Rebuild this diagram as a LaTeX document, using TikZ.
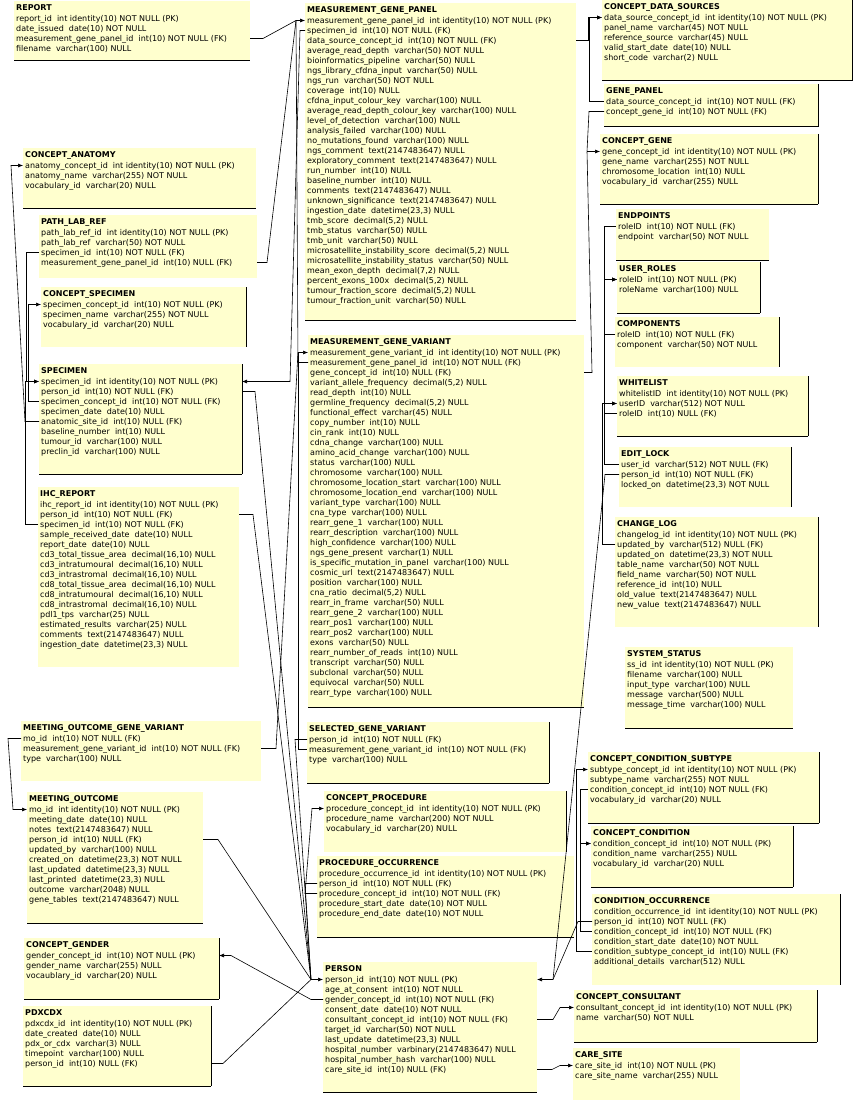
\documentclass[tikz,border=0pt]{standalone}
\usepackage{fontspec}
\setmainfont{DejaVu Sans}
\usetikzlibrary{arrows.meta}
\definecolor{tblfill}{RGB}{255,255,206}
\tikzset{
  tbox/.style={fill=tblfill, draw=none, inner sep=0pt, outer sep=0pt},
  ttext/.style={anchor=north west, inner sep=0pt, align=left, font=\fontsize{8}{10}\selectfont},
  edgeln/.style={draw=black, line width=1pt},
  ln/.style={draw=black, line width=0.6pt},
  fk/.style={ln, -{Latex[length=5pt,width=4pt]}}
}
\newcommand\tbl[8]{%
  \node[tbox, anchor=north west, minimum width={(#4)-(#2)}, minimum height={(#5)-(#3)}] (#1) at (#2,#3) {};
  \node[ttext] (#1-t) at ({#2+2},{#3+1.9}) {\rule{0pt}{7pt}\textbf{#7}\\[1.5pt]#8};
  \foreach \i in {1,...,#6} {%
    \coordinate (#1-L\i) at (#2,{#3+17.5+10*(\i-1)});
    \coordinate (#1-R\i) at (#4,{#3+17.5+10*(\i-1)});
  }%
}
\newcommand\eB[1]{\draw[edgeln] (#1.south west) -- (#1.south east);}
\newcommand\eR[1]{\draw[edgeln] (#1.north east) -- (#1.south east);}
\catcode`\_=12
\begin{document}
\begin{tikzpicture}[x=1pt,y=-1pt]
\fill[white] (0,0) rectangle (865,1105);
\useasboundingbox (0,0) rectangle (865,1105);

% ---------------- left column
\tbl{report}{14}{1}{250}{61}{4}{REPORT}{report_id~~int identity(10) NOT NULL (PK)\\date_issued~~date(10) NOT NULL\\measurement_gene_panel_id~~int(10) NOT NULL (FK)\\filename~~varchar(100) NULL}
\eB{report}
\tbl{canat}{23}{148}{256}{208}{3}{CONCEPT_ANATOMY}{anatomy_concept_id~~int identity(10) NOT NULL (PK)\\anatomy_name~~varchar(255) NOT NULL\\vocabulary_id~~varchar(20) NULL}
\eB{canat}
\tbl{plr}{39}{215}{257}{278}{4}{PATH_LAB_REF}{path_lab_ref_id~~int identity(10) NOT NULL (PK)\\path_lab_ref~~varchar(50) NOT NULL\\specimen_id~~int(10) NOT NULL (FK)\\measurement_gene_panel_id~~int(10) NULL (FK)}
\tbl{cspec}{41}{287}{246}{347}{3}{CONCEPT_SPECIMEN}{specimen_concept_id~~int(10) NOT NULL (PK)\\specimen_name~~varchar(255) NOT NULL\\vocabulary_id~~varchar(20) NULL}
\eR{cspec}
\tbl{spec}{39}{364}{242}{474}{8}{SPECIMEN}{specimen_id~~int identity(10) NOT NULL (PK)\\person_id~~int(10) NOT NULL (FK)\\specimen_concept_id~~int(10) NOT NULL (FK)\\specimen_date~~date(10) NULL\\anatomic_site_id~~int(10) NULL (FK)\\baseline_number~~int(10) NULL\\tumour_id~~varchar(100) NULL\\preclin_id~~varchar(100) NULL}
\eR{spec}\eB{spec}
\tbl{ihc}{38}{487}{239}{667}{15}{IHC_REPORT}{ihc_report_id~~int identity(10) NOT NULL (PK)\\person_id~~int(10) NOT NULL (FK)\\specimen_id~~int(10) NOT NULL (FK)\\sample_received_date~~date(10) NULL\\report_date~~date(10) NULL\\cd3_total_tissue_area~~decimal(16,10) NULL\\cd3_intratumoural~~decimal(16,10) NULL\\cd3_intrastromal~~decimal(16,10) NULL\\cd8_total_tissue_area~~decimal(16,10) NULL\\cd8_intratumoural~~decimal(16,10) NULL\\cd8_intrastromal~~decimal(16,10) NULL\\pdl1_tps~~varchar(25) NULL\\estimated_results~~varchar(25) NULL\\comments~~text(2147483647) NULL\\ingestion_date~~datetime(23,3) NULL}
\tbl{mogv}{21}{721}{261}{781}{3}{MEETING_OUTCOME_GENE_VARIANT}{mo_id~~int(10) NOT NULL (FK)\\measurement_gene_variant_id~~int(10) NOT NULL (FK)\\type~~varchar(100) NULL}
\tbl{mo}{27}{792}{203}{923}{10}{MEETING_OUTCOME}{mo_id~~int identity(10) NOT NULL (PK)\\meeting_date~~date(10) NULL\\notes~~text(2147483647) NULL\\person_id~~int(10) NULL (FK)\\updated_by~~varchar(100) NULL\\created_on~~datetime(23,3) NOT NULL\\last_updated~~datetime(23,3) NULL\\last_printed~~datetime(23,3) NULL\\outcome~~varchar(2048) NULL\\gene_tables~~text(2147483647) NULL}
\eB{mo}
\tbl{cgender}{24}{938}{219}{999}{3}{CONCEPT_GENDER}{gender_concept_id~~int(10) NOT NULL (PK)\\gender_name~~varchar(255) NULL\\vocaublary_id~~varchar(20) NULL}
\eR{cgender}\eB{cgender}
\tbl{pdx}{23}{1006}{211}{1086}{5}{PDXCDX}{pdxcdx_id~~int identity(10) NOT NULL (PK)\\date_created~~date(10) NULL\\pdx_or_cdx~~varchar(3) NULL\\timepoint~~varchar(100) NULL\\person_id~~int(10) NULL (FK)}
\eR{pdx}\eB{pdx}

% ---------------- middle column
\tbl{mgp}{305}{3}{576}{320}{29}{MEASUREMENT_GENE_PANEL}{measurement_gene_panel_id~~int identity(10) NOT NULL (PK)\\specimen_id~~int(10) NOT NULL (FK)\\data_source_concept_id~~int(10) NOT NULL (FK)\\average_read_depth~~varchar(50) NOT NULL\\bioinformatics_pipeline~~varchar(50) NULL\\ngs_library_cfdna_input~~varchar(50) NULL\\ngs_run~~varchar(50) NOT NULL\\coverage~~int(10) NULL\\cfdna_input_colour_key~~varchar(100) NULL\\average_read_depth_colour_key~~varchar(100) NULL\\level_of_detection~~varchar(100) NULL\\analysis_failed~~varchar(100) NULL\\no_mutations_found~~varchar(100) NULL\\ngs_comment~~text(2147483647) NULL\\exploratory_comment~~text(2147483647) NULL\\run_number~~int(10) NULL\\baseline_number~~int(10) NULL\\comments~~text(2147483647) NULL\\unknown_significance~~text(2147483647) NULL\\ingestion_date~~datetime(23,3) NULL\\tmb_score~~decimal(5,2) NULL\\tmb_status~~varchar(50) NULL\\tmb_unit~~varchar(50) NULL\\microsatellite_instability_score~~decimal(5,2) NULL\\microsatellite_instability_status~~varchar(50) NULL\\mean_exon_depth~~decimal(7,2) NULL\\percent_exons_100x~~decimal(5,2) NULL\\tumour_fraction_score~~decimal(5,2) NULL\\tumour_fraction_unit~~varchar(50) NULL}
\eB{mgp}
\tbl{mgv}{308}{335}{584}{707}{35}{MEASUREMENT_GENE_VARIANT}{measurement_gene_variant_id~~int identity(10) NOT NULL (PK)\\measurement_gene_panel_id~~int(10) NOT NULL (FK)\\gene_concept_id~~int(10) NULL (FK)\\variant_allele_frequency~~decimal(5,2) NULL\\read_depth~~int(10) NULL\\germline_frequency~~decimal(5,2) NULL\\functional_effect~~varchar(45) NULL\\copy_number~~int(10) NULL\\cin_rank~~int(10) NULL\\cdna_change~~varchar(100) NULL\\amino_acid_change~~varchar(100) NULL\\status~~varchar(100) NULL\\chromosome~~varchar(100) NULL\\chromosome_location_start~~varchar(100) NULL\\chromosome_location_end~~varchar(100) NULL\\variant_type~~varchar(100) NULL\\cna_type~~varchar(100) NULL\\rearr_gene_1~~varchar(100) NULL\\rearr_description~~varchar(100) NULL\\high_confidence~~varchar(100) NULL\\ngs_gene_present~~varchar(1) NULL\\is_specific_mutation_in_panel~~varchar(100) NULL\\cosmic_url~~text(2147483647) NULL\\position~~varchar(100) NULL\\cna_ratio~~decimal(5,2) NULL\\rearr_in_frame~~varchar(50) NULL\\rearr_gene_2~~varchar(100) NULL\\rearr_pos1~~varchar(100) NULL\\rearr_pos2~~varchar(100) NULL\\exons~~varchar(50) NULL\\rearr_number_of_reads~~int(10) NULL\\transcript~~varchar(50) NULL\\subclonal~~varchar(50) NULL\\equivocal~~varchar(50) NULL\\rearr_type~~varchar(100) NULL}
\eB{mgv}
\tbl{sgv}{307}{722}{549}{783}{3}{SELECTED_GENE_VARIANT}{person_id~~int(10) NOT NULL (FK)\\measurement_gene_variant_id~~int(10) NOT NULL (FK)\\type~~varchar(100) NULL}
\eR{sgv}\eB{sgv}
\tbl{cproc}{324}{791}{566}{852}{3}{CONCEPT_PROCEDURE}{procedure_concept_id~~int identity(10) NOT NULL (PK)\\procedure_name~~varchar(200) NOT NULL\\vocabulary_id~~varchar(20) NULL}
\eR{cproc}
\tbl{po}{317}{856}{574}{937}{5}{PROCEDURE_OCCURRENCE}{procedure_occurrence_id~~int identity(10) NOT NULL (PK)\\person_id~~int(10) NOT NULL (FK)\\procedure_concept_id~~int(10) NOT NULL (FK)\\procedure_start_date~~date(10) NOT NULL\\procedure_end_date~~date(10) NOT NULL}
\eB{po}
\tbl{person}{323}{962}{537}{1092}{10}{PERSON}{person_id~~int(10) NOT NULL (PK)\\age_at_consent~~int(10) NOT NULL\\gender_concept_id~~int(10) NOT NULL (FK)\\consent_date~~date(10) NOT NULL\\consultant_concept_id~~int(10) NOT NULL (FK)\\target_id~~varchar(50) NOT NULL\\last_update~~datetime(23,3) NULL\\hospital_number~~varbinary(2147483647) NULL\\hospital_number_hash~~varchar(100) NULL\\care_site_id~~int(10) NULL (FK)}
\eB{person}

% ---------------- right column
\tbl{cds}{602}{0}{852}{81}{5}{CONCEPT_DATA_SOURCES}{data_source_concept_id~~int identity(10) NOT NULL (PK)\\panel_name~~varchar(45) NOT NULL\\reference_source~~varchar(45) NULL\\valid_start_date~~date(10) NULL\\short_code~~varchar(2) NULL}
\eR{cds}\eB{cds}
\tbl{gp}{604}{84}{818}{127}{2}{GENE_PANEL}{data_source_concept_id~~int(10) NOT NULL (FK)\\concept_gene_id~~int(10) NOT NULL (FK)}
\eR{gp}\eB{gp}
\tbl{cgene}{600}{134}{818}{204}{4}{CONCEPT_GENE}{gene_concept_id~~int identity(10) NOT NULL (PK)\\gene_name~~varchar(255) NOT NULL\\chromosome_location~~int(10) NULL\\vocabulary_id~~varchar(255) NULL}
\eR{cgene}\eB{cgene}
\tbl{endp}{616}{209}{769}{260}{2}{ENDPOINTS}{roleID~~int(10) NOT NULL (FK)\\endpoint~~varchar(50) NOT NULL}
\eB{endp}
\tbl{uroles}{617}{262}{760}{313}{2}{USER_ROLES}{roleID~~int(10) NOT NULL (PK)\\roleName~~varchar(100) NULL}
\eR{uroles}\eB{uroles}
\tbl{comp}{615}{317}{779}{367}{2}{COMPONENTS}{roleID~~int(10) NOT NULL (FK)\\component~~varchar(50) NOT NULL}
\eR{comp}
\tbl{wl}{617}{376}{808}{436}{3}{WHITELIST}{whitelistID~~int identity(10) NOT NULL (PK)\\userID~~varchar(512) NOT NULL\\roleID~~int(10) NULL (FK)}
\eR{wl}\eB{wl}
\tbl{elock}{619}{447}{791}{507}{3}{EDIT_LOCK}{user_id~~varchar(512) NOT NULL (FK)\\person_id~~int(10) NOT NULL (FK)\\locked_on~~datetime(23,3) NOT NULL}
\eR{elock}
\tbl{clog}{615}{517}{818}{627}{8}{CHANGE_LOG}{changelog_id~~int identity(10) NOT NULL (PK)\\updated_by~~varchar(512) NULL (FK)\\updated_on~~datetime(23,3) NOT NULL\\table_name~~varchar(50) NOT NULL\\field_name~~varchar(50) NOT NULL\\reference_id~~int(10) NULL\\old_value~~text(2147483647) NULL\\new_value~~text(2147483647) NULL}
\eR{clog}
\tbl{sys}{625}{647}{793}{728}{5}{SYSTEM_STATUS}{ss_id~~int identity(10) NOT NULL (PK)\\filename~~varchar(100) NULL\\input_type~~varchar(100) NULL\\message~~varchar(500) NULL\\message_time~~varchar(100) NULL}
\eB{sys}
\tbl{ccs}{588}{752}{819}{823}{4}{CONCEPT_CONDITION_SUBTYPE}{subtype_concept_id~~int identity(10) NOT NULL (PK)\\subtype_name~~varchar(255) NOT NULL\\condition_concept_id~~int(10) NOT NULL (FK)\\vocabulary_id~~varchar(20) NULL}
\eR{ccs}\eB{ccs}
\tbl{cc}{591}{826}{793}{887}{3}{CONCEPT_CONDITION}{condition_concept_id~~int(10) NOT NULL (PK)\\condition_name~~varchar(255) NULL\\vocabulary_id~~varchar(20) NULL}
\eR{cc}\eB{cc}
\tbl{co}{592}{894}{840}{985}{6}{CONDITION_OCCURRENCE}{condition_occurrence_id~~int identity(10) NOT NULL (PK)\\person_id~~int(10) NOT NULL (FK)\\condition_concept_id~~int(10) NOT NULL (FK)\\condition_start_date~~date(10) NOT NULL\\condition_subtype_concept_id~~int(10) NULL (FK)\\additional_details~~varchar(512) NULL}
\eR{co}
\tbl{ccons}{574}{990}{817}{1042}{2}{CONCEPT_CONSULTANT}{consultant_concept_id~~int identity(10) NOT NULL (PK)\\name~~varchar(50) NOT NULL}
\eR{ccons}\eB{ccons}
\tbl{csite}{573}{1048}{740}{1100}{2}{CARE_SITE}{care_site_id~~int(10) NOT NULL (PK)\\care_site_name~~varchar(255) NULL}

% ---------------- junction points
\coordinate (mgpjoin) at (296,20.5);
\coordinate (mgvjoin) at (298,352.5);
\coordinate (pjoin) at (311,979.5);
\coordinate (perjR) at (553,979.5);
\coordinate (cgjoin) at (587,151.5);

% ---------------- connectors: left corridor
\draw[ln] (report-R3) -- ++(13,0) -- (mgpjoin);
\draw[ln] (plr-R4) -- ++(10,0) -- (mgpjoin);
\draw[ln] (mgv-L2) -- ++(-10,0) -- (mgpjoin);
\draw[fk] (mgpjoin) -- (mgp-L1);
\draw[fk] (mgp-L2) -- ++(-5,0) -- (290,381.5) -- (spec-R1);
\draw[ln] (spec-R2) -- ++(13,0) -- (pjoin);
\draw[ln] (ihc-R2) -- ++(14,0) -- (pjoin);
\draw[ln] (mo-R4) -- ++(15,0) -- (pjoin);
\draw[ln] (pdx-R5) -- ++(12,0) -- (pjoin);
\draw[ln] (sgv-L1) -- ++(-12,0) -- (pjoin);
\draw[ln] (po-L2) -- ++(-12,0) -- (pjoin);
\draw[fk] (pjoin) -- (person-L1);
\draw[fk] (person-L3) -- ++(-12,0) -- (231,955.5) -- (cgender-R1);
\draw[ln] (mogv-R2) -- ++(15,0) -- (mgvjoin);
\draw[ln] (sgv-L2) -- ++(-9,0) -- (mgvjoin);
\draw[fk] (mgvjoin) -- (mgv-L1);
\draw[fk] (po-L3) -- ++(-12,0) -- (312,808.5) -- (cproc-L1);

% ---------------- connectors: far left
\draw[fk] (spec-L5) -- ++(-14,0) -- (11,165.5) -- (canat-L1);
\draw[fk] (spec-L3) -- ++(-11,0) |- (cspec-L1);
\draw[fk] (plr-L3) -- ++(-13,0) |- (spec-L1);
\draw[fk] (ihc-L3) -- ++(-13,0) |- (spec-L1);
\draw[fk] (mogv-L1) -- ++(-13,0) -- (13,809.5) -- (mo-L1);

% ---------------- connectors: right corridor
\draw[fk] (mgp-R3) -- ++(12,0) |- (cds-L1);
\draw[fk] (gp-L1) -- ++(-15,0) |- (cds-L1);
\draw[ln] (gp-L2) -- ++(-15,0) -- (cgjoin);
\draw[ln] (mgv-R3) -- ++(8,0) -- (cgjoin);
\draw[fk] (cgjoin) -- (cgene-L1);
\draw[fk] (endp-L1) -- ++(-12,0) |- (uroles-L1);
\draw[fk] (comp-L1) -- ++(-11,0) |- (uroles-L1);
\draw[fk] (wl-L3) -- ++(-13,0) |- (uroles-L1);
\draw[fk] (elock-L1) -- ++(-15,0) |- (wl-L2);
\draw[fk] (clog-L2) -- ++(-13,0) |- (wl-L2);
\draw[ln] (elock-L2) -- ++(-14,0) -- (perjR);
\draw[ln] (co-L2) -- ++(-14,0) -- (perjR);
\draw[fk] (perjR) -- (person-R1);
\draw[fk] (co-L5) -- ++(-16,0) |- (ccs-L1);
\draw[fk] (ccs-L3) -- ++(-8,0) |- (cc-L1);
\draw[fk] (co-L3) -- ++(-12,0) |- (cc-L1);
\draw[fk] (person-R5) -- ++(16,0) -- (560,1007.5) -- (ccons-L1);
\draw[fk] (person-R10) -- ++(15,0) -- (560,1065.5) -- (csite-L1);
\end{tikzpicture}
\end{document}
